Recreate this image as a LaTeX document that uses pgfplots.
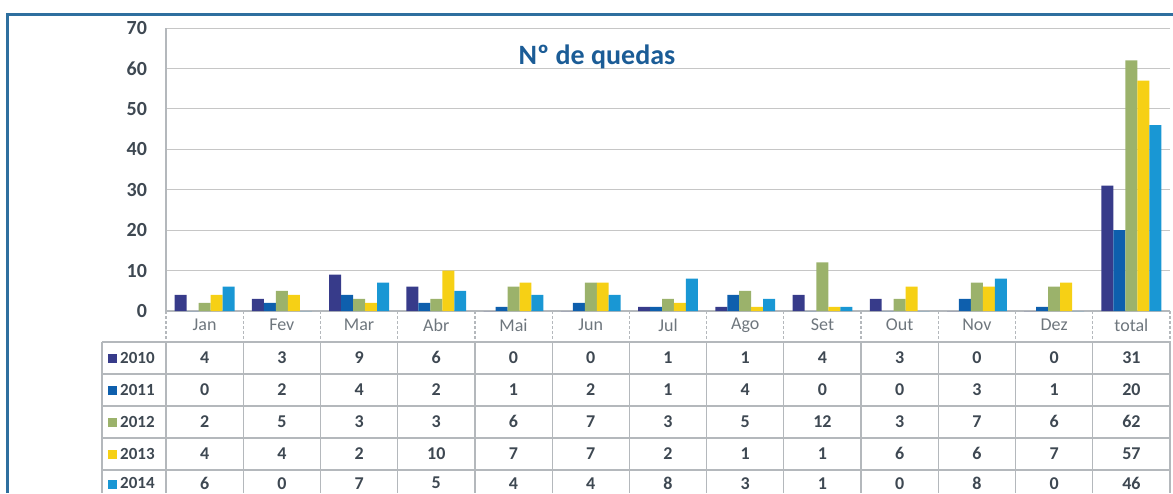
\documentclass[border=0pt]{standalone}
\usepackage{pgfplots}
\usepackage{pgfplotstable}
\pgfplotsset{compat=1.18}
\usepackage{fontspec}
\setmainfont{Carlito}

\definecolor{c2010}{HTML}{373B8A}
\definecolor{c2011}{HTML}{0E5FAD}
\definecolor{c2012}{HTML}{9BB26B}
\definecolor{c2013}{HTML}{F6D015}
\definecolor{c2014}{HTML}{1997D4}
\definecolor{frameblue}{HTML}{2E6F9F}
\definecolor{titleblue}{HTML}{1B5C96}
\definecolor{txt}{HTML}{3E4852}
\definecolor{tbl}{HTML}{B4B8BC}

% quedas por mes, colunas a..e = 2010..2014
\pgfplotstableread{
x  a  b  c  d  e
0  4  0  2  4  6
1  3  2  5  4  0
2  9  4  3  2  7
3  6  2  3 10  5
4  0  1  6  7  4
5  0  2  7  7  4
6  1  1  3  2  8
7  1  4  5  1  3
8  4  0 12  1  1
9  3  0  3  6  0
10 0  3  7  6  8
11 0  1  6  7  0
12 31 20 62 57 46
}\data

\pgfplotsset{
  tabrow/.style={draw=none, mark=none, nodes near coords,
    point meta=explicit symbolic,
    every node near coord/.append style={anchor=center, inner sep=0pt,
      font=\bfseries\fontsize{9}{11}\selectfont, text=txt}},
}

\begin{document}
\begin{tikzpicture}
\useasboundingbox (-83pt,-91pt) rectangle (503.5pt,155.5pt);
\begin{axis}[
  at={(0,0)}, anchor=south west,
  scale only axis, width=502pt, height=141.5pt,
  xmin=-0.5, xmax=12.5, ymin=0, ymax=70,
  ytick={0,10,...,70},
  xtick={0,...,12},
  xticklabels={Jan,Fev,Mar,Abr,Mai,Jun,Jul,Ago,Set,Out,Nov,Dez,total},
  major tick length=0pt,
  axis x line*=bottom, axis y line*=left,
  axis line style={tbl, line width=0.6pt, -},
  ymajorgrids, grid style={gray!45, line width=0.5pt},
  /pgf/number format/assume math mode=true,
  yticklabel style={font=\bfseries\fontsize{10}{12}\selectfont, text=txt, xshift=-6pt},
  xticklabel style={font=\fontsize{9}{11}\selectfont, text=txt!75, anchor=center, yshift=-7pt},
  clip=false,
  bar width=0.155,
]
\addplot[ybar, bar shift=-0.31,  fill=c2010, draw=none] table[x=x, y=a]{\data};
\addplot[ybar, bar shift=-0.155, fill=c2011, draw=none] table[x=x, y=b]{\data};
\addplot[ybar, bar shift=0,      fill=c2012, draw=none] table[x=x, y=c]{\data};
\addplot[ybar, bar shift=0.155,  fill=c2013, draw=none] table[x=x, y=d]{\data};
\addplot[ybar, bar shift=0.31,   fill=c2014, draw=none] table[x=x, y=e]{\data};

% tabela de dados por baixo do grafico
\addplot[tabrow] table[x=x, y expr=-11.5, meta=a]{\data};
\addplot[tabrow] table[x=x, y expr=-19.4, meta=b]{\data};
\addplot[tabrow] table[x=x, y expr=-27.4, meta=c]{\data};
\addplot[tabrow] table[x=x, y expr=-35.3, meta=d]{\data};
\addplot[tabrow] table[x=x, y expr=-42.6, meta=e]{\data};
\end{axis}

\begin{scope}[tbl, line width=0.6pt]
  \foreach \y in {-15.5,-31.5,-47.5,-63.5,-79.5}
    \draw (-32pt,\y pt) -- (502pt,\y pt);
  \foreach \k in {0,...,13} {
    \draw[dash pattern=on 1.5pt off 1pt] (\k*38.615pt,0pt) -- (\k*38.615pt,-15.5pt);
    \draw (\k*38.615pt,-15.5pt) -- (\k*38.615pt,-91pt);
  }
  \draw (-32pt,-15.5pt) -- (-32pt,-91pt);
\end{scope}

\foreach \y/\c/\t in {-23.3/c2010/2010,-39.3/c2011/2011,-55.3/c2012/2012,-71.3/c2013/2013,-86.1/c2014/2014}
  \node[anchor=west, inner sep=0pt, font=\bfseries\fontsize{8.5}{10}\selectfont, text=txt]
    at (-29pt,\y pt) {\textcolor{\c}{\rule{4.5pt}{4.5pt}}\,\t};

\node[font=\bfseries\fontsize{14}{16}\selectfont, text=titleblue] at (215.5pt,127pt) {Nº de quedas};

\draw[frameblue, line width=1.5pt] (-79pt,-91pt) -- (-79pt,148pt) -- (503.5pt,148pt);
\end{tikzpicture}
\end{document}
